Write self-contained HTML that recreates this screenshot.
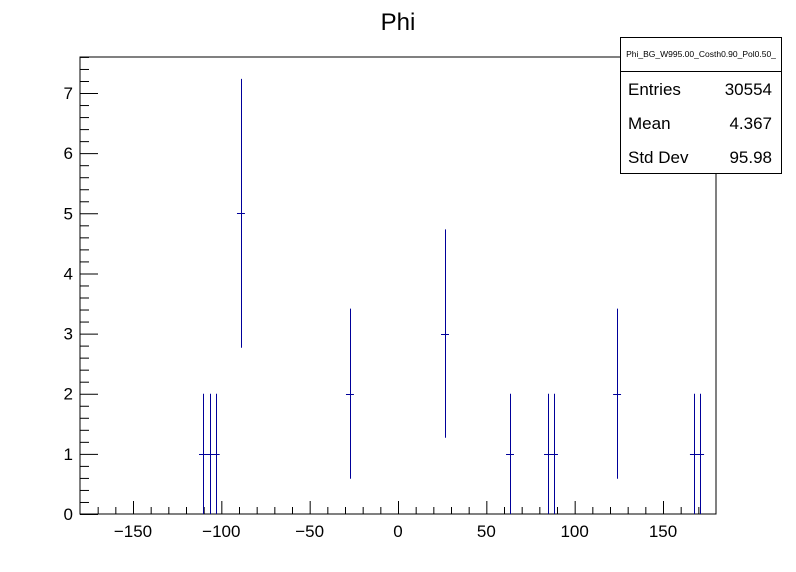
<!DOCTYPE html>
<html><head><meta charset="utf-8"><style>
body{margin:0;background:#fff;}
svg{display:block;font-family:"Liberation Sans",sans-serif;}
</style></head><body>
<svg id="c" width="796" height="572">
<rect width="796" height="572" fill="#fff"/>
<text x="398" y="30" font-size="24" text-anchor="middle">Phi</text>
<rect x="80" y="57" width="636" height="457" fill="none" stroke="#000"/>
<g id="axes"></g>
<g id="marks"></g>
<g>
<rect x="620.5" y="37.5" width="161" height="136" fill="#fff" stroke="#000"/>
<line x1="620.5" y1="71.5" x2="781.5" y2="71.5" stroke="#000"/>
<text x="701" y="57" font-size="8.5" text-anchor="middle">Phi_BG_W995.00_Costh0.90_Pol0.50_</text>
<text x="628" y="95" font-size="17">Entries</text>
<text x="772" y="95" font-size="17" text-anchor="end">30554</text>
<text x="628" y="129" font-size="17">Mean</text>
<text x="772" y="129" font-size="17" text-anchor="end">4.367</text>
<text x="628" y="163" font-size="17">Std Dev</text>
<text x="772" y="163" font-size="17" text-anchor="end">95.98</text>
</g>
</svg>
<script>
const binCenters=[-110.4,-106.6,-103.2,-88.9,-27.2,26.6,63.4,84.9,88.3,124,167.5,171];
const counts=[1,1,1,5,2,3,1,1,1,2,1,1];
const xTicks=[-150,-100,-50,0,50,100,150];
const yTicks=[0,1,2,3,4,5,6,7];
const binWidth=4.5;
const NS='http://www.w3.org/2000/svg';
const X=v=>80+(v+180)*636/360;
const Y=v=>514-v*60.14;
const axes=document.getElementById('axes'),marks=document.getElementById('marks');
function ln(p,x1,y1,x2,y2,c){const l=document.createElementNS(NS,'line');l.setAttribute('x1',x1);l.setAttribute('y1',y1);l.setAttribute('x2',x2);l.setAttribute('y2',y2);l.setAttribute('stroke',c);l.setAttribute('stroke-width','1');p.appendChild(l);return l;}
function tx(p,x,y,s,a){const t=document.createElementNS(NS,'text');t.setAttribute('x',x);t.setAttribute('y',y);t.setAttribute('font-size','17');t.setAttribute('text-anchor',a);t.textContent=s;p.appendChild(t);return t;}
for(let v=-170;v<=170;v+=10){const major=v%50===0;const l=ln(axes,X(v)+.5,514,X(v)+.5,514-(major?13:7),'#000');

}
xTicks.forEach(v=>{const t=tx(axes,X(v),537,String(v).replace('-','\u2212'),'middle');

});
for(let i=0;i<=38;i++){const v=i*0.2;const major=i%5===0;const l=ln(axes,80,Y(v)+.5,80+(major?18:9),Y(v)+.5,'#000');

}
yTicks.forEach(v=>{const t=tx(axes,73,Y(v)+6,String(v),'end');

});
const col='#000099';
binCenters.forEach((c,i)=>{const n=counts[i],e=Math.sqrt(n);const g=document.createElementNS(NS,'g');


marks.appendChild(g);const x=Math.round(X(c))+.5;
ln(g,x,Y(Math.min(n+e,7.6)),x,Y(Math.max(n-e,0)),col);
ln(g,X(c-binWidth/2),Math.round(Y(n))+.5,X(c+binWidth/2),Math.round(Y(n))+.5,col);});
</script>
</body></html>
